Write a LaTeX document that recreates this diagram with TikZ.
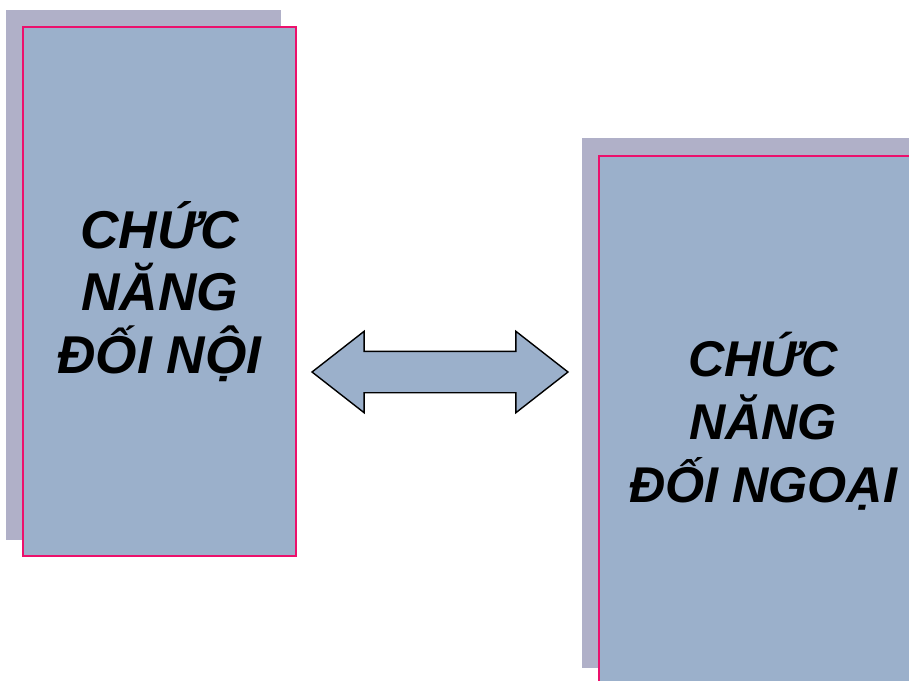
\documentclass[tikz,border=0pt]{standalone}
\usepackage{fontspec}
\setmainfont{Liberation Sans}
\usetikzlibrary{shapes.arrows, positioning}
\definecolor{boxblue}{RGB}{155,176,203}
\definecolor{shadowgrey}{RGB}{176,176,200}
\definecolor{edgepink}{RGB}{236,16,108}
\tikzstyle{shadowbox} = [rectangle, fill=shadowgrey, draw=none, inner sep=0]
\tikzstyle{funcbox} = [rectangle, fill=boxblue, draw=edgepink, line width=0.04cm, inner sep=0, align=center, font=\fontsize{30.3}{35.7}\selectfont\bfseries\itshape]
\tikzstyle{linkarrow} = [double arrow, draw=black, fill=boxblue, line width=0.8pt, minimum height=5.12cm, inner xsep=0, inner ysep=0.4cm, double arrow head extend=0.4cm, double arrow tip angle=76]

\begin{document}
\begin{tikzpicture}[x=0.02cm, y=-0.02cm]
\clip (0,0) rectangle (909,680);
\useasboundingbox (0,0) rectangle (909,680);
\fill[white] (0,0) rectangle (909,680);

\node (innershadow) [shadowbox, minimum width=5.5cm, minimum height=10.6cm] at (143.5,275) {};
\node (inner) [funcbox, minimum width=5.46cm, minimum height=10.58cm] at (159.5,291.5) {CHỨC\\NĂNG\\ĐỐI NỘI};

\node (outershadow) [shadowbox, minimum width=6.56cm, minimum height=10.6cm] at (746,403) {};
\node (outer) [funcbox, minimum width=6.56cm, minimum height=10.6cm, font=\fontsize{28.6}{35.7}\selectfont\bfseries\itshape] at (763,421) {CHỨC\\NĂNG\\ĐỐI NGOẠI};

\node (link) [linkarrow] at (440,372) {};

\end{tikzpicture}
\end{document}
